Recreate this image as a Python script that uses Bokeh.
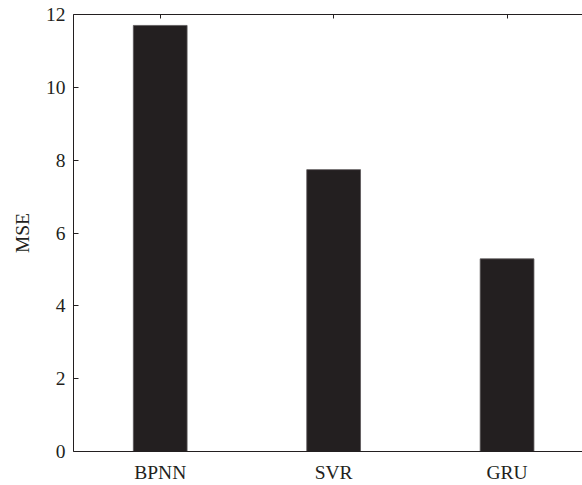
from bokeh.plotting import figure
from bokeh.models import Range1d, FixedTicker, LinearAxis, ColumnDataSource
from bokeh.embed import file_html
from bokeh.resources import INLINE

categories = ["BPNN", "SVR", "GRU"]
mse_values = [11.70, 7.74, 5.29]
y_ticks = [0, 2, 4, 6, 8, 10, 12]

positions = list(range(len(categories)))
src = ColumnDataSource(data=dict(x=positions, top=mse_values, name=categories))

FONT = "Liberation Serif"
INK = "#231f20"

p = figure(width=582, height=485, output_backend="svg", toolbar_location=None,
           x_range=Range1d(-0.5, 2.435), y_range=Range1d(0, 12),
           x_axis_location=None, y_axis_location=None,
           min_border_left=73, min_border_right=0, min_border_top=14, min_border_bottom=34)
p.outline_line_color = None
p.grid.visible = False
p.background_fill_color = "white"
p.border_fill_color = "white"

p.vbar(x="x", top="top", width=0.31, bottom=0, source=src,
       fill_color=INK, line_color="#5a5758", line_width=0.8)

left = LinearAxis(ticker=FixedTicker(ticks=y_ticks), axis_label="MSE")
left.major_tick_in = 5
left.major_tick_out = 0
left.minor_tick_in = 0
left.minor_tick_out = 0
left.major_label_standoff = 8
left.axis_label_standoff = 10
left.major_label_text_font = FONT
left.major_label_text_font_size = "19.5px"
left.major_label_text_color = INK
left.axis_label_text_font = FONT
left.axis_label_text_font_size = "19.5px"
left.axis_label_text_font_style = "normal"
left.axis_label_text_color = INK
left.axis_line_color = INK
left.major_tick_line_color = INK
p.add_layout(left, "left")

bottom = LinearAxis(ticker=FixedTicker(ticks=positions))
bottom.major_label_overrides = {i: c for i, c in enumerate(categories)}
bottom.major_tick_in = 0
bottom.major_tick_out = 0
bottom.minor_tick_in = 0
bottom.minor_tick_out = 0
bottom.major_label_standoff = 10
bottom.major_label_text_font = FONT
bottom.major_label_text_font_size = "19.5px"
bottom.major_label_text_color = INK
bottom.axis_line_color = INK
p.add_layout(bottom, "below")

top = LinearAxis(ticker=FixedTicker(ticks=positions))
top.major_label_overrides = {i: "" for i in positions}
top.major_label_text_font_size = "0px"
top.major_label_standoff = 0
top.major_tick_in = 4
top.major_tick_out = 0
top.minor_tick_in = 0
top.minor_tick_out = 0
top.axis_line_color = INK
top.major_tick_line_color = INK
p.add_layout(top, "above")

open("out.html", "w").write(file_html(p, INLINE))
